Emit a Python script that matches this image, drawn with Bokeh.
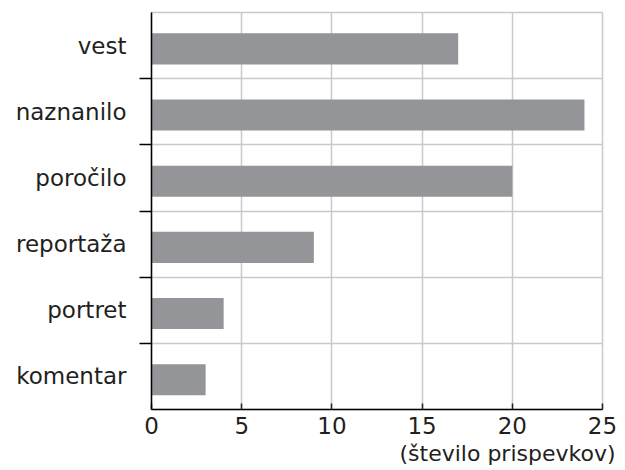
from bokeh.plotting import figure
from bokeh.models import FixedTicker, Range1d, Title
from bokeh.embed import file_html
from bokeh.resources import INLINE

categories = ["vest", "naznanilo", "poročilo", "reportaža", "portret", "komentar"]
counts = [17, 24, 20, 9, 4, 3]
x_ticks = [0, 5, 10, 15, 20, 25]
x_label = "(število prispevkov)"

n = len(categories)
centers = [n - i - 0.5 for i in range(n)]
bar_y = [c - 0.05 for c in centers]

FONT = "DejaVu Sans"
TXT = "#231f20"

p = figure(width=625, height=470, output_backend="svg", toolbar_location=None,
           x_range=Range1d(0, 25), y_range=Range1d(0, n),
           min_border_left=151, min_border_right=23, min_border_top=12, min_border_bottom=61)
p.outline_line_color = "#c8c9cc"
p.outline_line_width = 1.5
p.background_fill_color = "white"

p.hbar(y=bar_y, right=counts, left=0, height=0.47, fill_color="#939598", line_color=None)

# grids
p.xgrid.ticker = FixedTicker(ticks=[5, 10, 15, 20, 25])
p.ygrid.ticker = FixedTicker(ticks=list(range(1, n + 1)))
for g in (p.xgrid, p.ygrid):
    g.grid_line_color = "#c8c9cc"
    g.grid_line_width = 1.5
    g.level = "underlay"

# y axis
ya = p.yaxis[0]
ya.ticker = FixedTicker(ticks=centers, minor_ticks=list(range(1, n)))
ya.major_label_overrides = {c: lab for c, lab in zip(centers, categories)}
ya.major_tick_line_color = None
ya.major_tick_out = 0
ya.major_tick_in = 0
ya.minor_tick_line_color = "black"
ya.minor_tick_line_width = 1.5
ya.minor_tick_out = 12
ya.minor_tick_in = 0
ya.major_label_standoff = 13
ya.major_label_text_font = FONT
ya.major_label_text_font_size = "23px"
ya.major_label_text_color = TXT
ya.axis_line_color = "black"
ya.axis_line_width = 1.5

# x axis
xa = p.xaxis[0]
xa.ticker = FixedTicker(ticks=x_ticks)
xa.major_tick_in = 6
xa.major_tick_out = 0
xa.major_tick_line_color = TXT
xa.major_tick_line_width = 1.5
xa.minor_tick_line_color = None
xa.major_label_standoff = 7
xa.major_label_text_font = FONT
xa.major_label_text_font_size = "23px"
xa.major_label_text_color = TXT
xa.axis_line_color = "black"
xa.axis_line_width = 1.5

t = Title(text=x_label, align="right", offset=-13, standoff=4,
          text_font=FONT, text_font_size="22px", text_font_style="normal",
          text_color=TXT)
p.add_layout(t, "below")

open("out.html", "w").write(file_html(p, INLINE))
